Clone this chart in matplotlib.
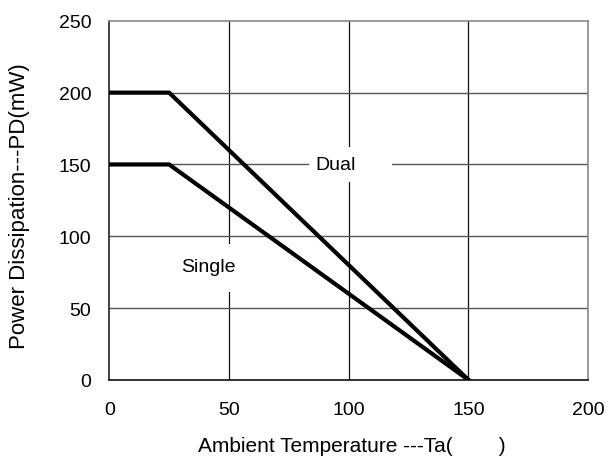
import matplotlib.pyplot as plt
from matplotlib.patches import Rectangle

plt.rcParams['font.family'] = ['Liberation Sans', 'DejaVu Sans']

# data
dual_temp = [0, 25, 150]
dual_power = [200, 200, 0]
single_temp = [0, 25, 150]
single_power = [150, 150, 0]

x_ticks = [0, 50, 100, 150, 200]
y_ticks = [0, 50, 100, 150, 200, 250]

fig = plt.figure(figsize=(6.07, 4.64), dpi=100)
ax = fig.add_axes([0.180, 0.179, 0.789, 0.774])

ax.set_xlim(0, 200)
ax.set_ylim(0, 250)
ax.set_xticks(x_ticks)
ax.set_yticks(y_ticks)
ax.tick_params(axis='x', length=0, pad=15, labelsize=14)
ax.tick_params(axis='y', length=0, pad=13, labelsize=14)

for x in x_ticks[1:-1]:
    ax.axvline(x, color='#111111', lw=0.9, zorder=1)
for y in y_ticks[1:-1]:
    ax.axhline(y, color='#555555', lw=1.0, zorder=1)

ax.spines['left'].set_color('#222222')
ax.spines['bottom'].set_color('#111111')
ax.spines['top'].set_color('#888888')
ax.spines['right'].set_color('#888888')
for s in ax.spines.values():
    s.set_linewidth(1.2)

ax.plot(dual_temp, dual_power, color='black', lw=3, solid_joinstyle='miter', zorder=3)
ax.plot(single_temp, single_power, color='black', lw=3, solid_joinstyle='miter', zorder=3)

# white label backgrounds that cut the grid
ax.add_patch(Rectangle((83.4, 137.9), 34.6, 24.4, facecolor='white', edgecolor='none', zorder=2))
ax.add_patch(Rectangle((27.5, 61.3), 24.0, 33.4, facecolor='white', edgecolor='none', zorder=2))
ax.text(85.9, 150, 'Dual', ha='left', va='center', fontsize=14, zorder=4)
ax.text(41.2, 78.7, 'Single', ha='center', va='center', fontsize=14, zorder=4)

fig.text(20 / 607, 1 - 206 / 464, 'Power Dissipation---PD(mW)', rotation=90,
         ha='center', va='center', fontsize=16)
fig.text(352 / 607, 1 - 447 / 464, 'Ambient Temperature ---Ta(        )',
         ha='center', va='center', fontsize=15)

fig.savefig('out.png', dpi=100)
